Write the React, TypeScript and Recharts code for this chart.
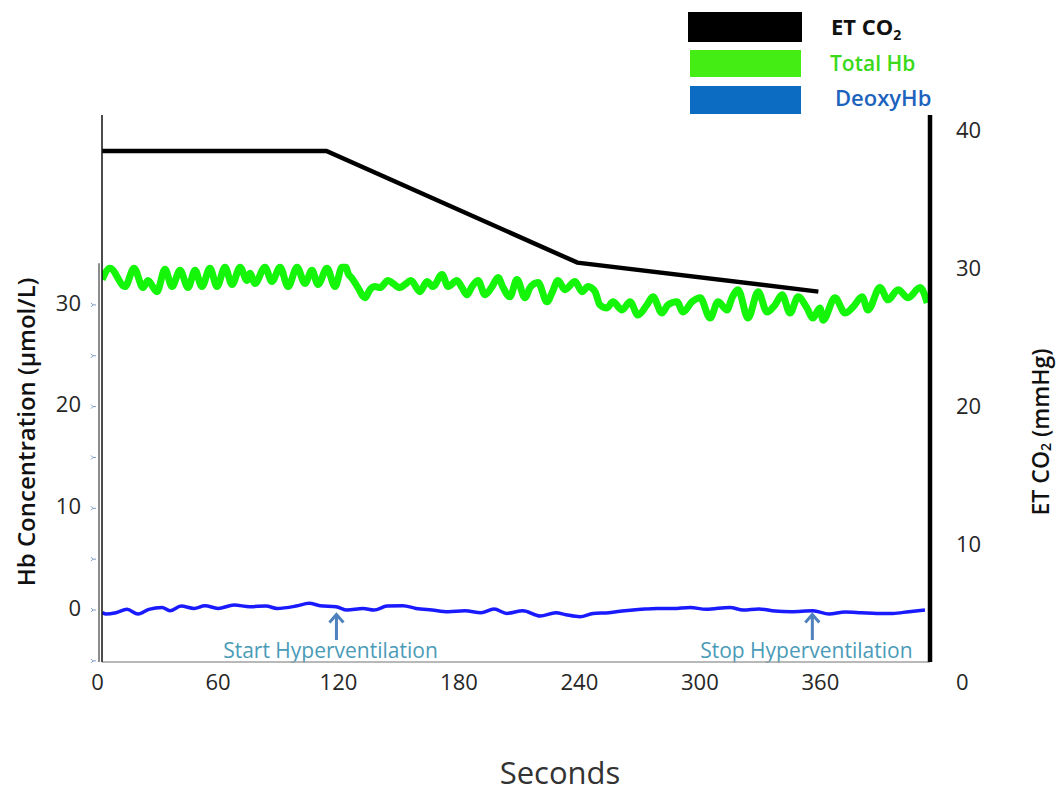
import { LineChart, Line, XAxis, YAxis, ReferenceLine } from 'recharts';

const FONT = '"Open Sans", "Liberation Sans", sans-serif';

// axes
const secondTicks = [0, 60, 120, 180, 240, 300, 360];
const secondDomain = [2.24, 414.6];
const hbTicks = [-5, 0, 5, 10, 15, 20, 25, 30];
const hbDomain = [-5.11, 48.67];
const co2Ticks = [0, 10, 20, 30, 40];
const co2Domain = [1.46, 41.1];

// ET CO2 (mmHg), right axis
const co2Time = [2.3, 114, 239, 359];
const co2Values = [38.5, 38.5, 30.4, 28.3];

// Total Hb (umol/L), left axis
const totalHbTime = [
  2.3, 6.2, 13.7, 18.2, 22.7, 25.1, 29.6, 33.6, 37.1, 41.1,
  45.1, 48.6, 52.0, 56.0, 59.5, 63.5, 67.0, 71.0, 74.5, 75.9,
  78.4, 83.4, 86.9, 90.9, 94.9, 99.4, 103.3, 106.8, 109.8, 114.3,
  118.3, 121.8, 123.8, 124.8, 126.8, 129.7, 133.2, 135.7, 138.2, 140.7,
  144.7, 147.2, 150.6, 153.1, 156.1, 160.6, 164.1, 167.1, 171.6, 174.6,
  179.0, 181.5, 184.0, 186.5, 189.5, 193.0, 196.5, 199.5, 202.0, 205.4,
  208.9, 212.9, 215.4, 219.4, 223.9, 226.4, 229.3, 232.8, 237.8, 241.3,
  244.3, 247.8, 250.2, 253.7, 256.7, 261.2, 265.2, 269.2, 273.6, 276.6,
  281.1, 284.1, 288.6, 291.6, 296.1, 300.1, 305.1, 309.0, 313.5, 316.0,
  319.0, 324.0, 329.0, 333.4, 337.4, 340.9, 344.9, 348.9, 353.3, 356.3,
  359.8, 361.3, 367.3, 372.3, 376.3, 380.8, 383.7, 389.7, 393.7, 398.7,
  403.7, 409.7, 413.2,
];
const totalHbValues = [
  32.5, 33.6, 31.8, 33.6, 31.7, 32.4, 31.3, 33.5, 31.8, 33.4,
  31.7, 33.4, 31.8, 33.6, 31.8, 33.7, 32.0, 33.7, 32.4, 33.1,
  32.1, 33.7, 32.3, 33.7, 31.8, 33.7, 32.1, 33.4, 32.0, 33.6,
  31.8, 33.7, 33.7, 33.1, 32.6, 31.7, 30.7, 31.5, 31.8, 31.7,
  32.4, 32.1, 31.7, 32.0, 32.4, 31.3, 32.3, 31.8, 33.0, 31.8,
  32.4, 31.7, 31.0, 31.8, 32.4, 31.0, 31.8, 32.7, 31.7, 30.8,
  32.5, 30.7, 31.7, 32.2, 30.3, 31.2, 32.4, 31.5, 32.3, 31.3,
  31.8, 31.3, 30.0, 29.7, 30.3, 29.5, 30.3, 29.0, 30.0, 30.8,
  29.2, 30.0, 30.3, 29.3, 30.3, 30.7, 28.7, 30.3, 29.5, 30.7,
  31.5, 28.7, 31.3, 29.3, 30.0, 31.0, 29.2, 30.8, 29.7, 28.7,
  29.7, 28.5, 30.7, 29.2, 29.8, 30.8, 29.5, 31.7, 30.5, 31.5,
  30.7, 31.7, 30.2,
];

// DeoxyHb (umol/L), left axis
const deoxyHbTime = [
  2.3, 4.2, 9.2, 14.7, 20.2, 25.6, 32.1, 36.1, 41.6, 48.1,
  53.5, 60.0, 68.0, 75.9, 83.9, 89.4, 98.9, 105.4, 110.8, 118.8,
  124.3, 132.2, 137.7, 144.2, 152.1, 158.6, 166.6, 174.6, 183.0, 191.0,
  197.5, 203.9, 211.9, 220.4, 228.3, 233.3, 240.3, 246.8, 254.7, 262.7,
  270.7, 278.7, 286.6, 295.1, 303.1, 315.0, 321.5, 329.4, 337.4, 345.4,
  356.3, 364.3, 372.3, 380.3, 388.2, 396.1, 404.1, 412.1,
];
const deoxyHbValues = [
  -0.26, -0.39, -0.26, 0.07, -0.39, 0.07, 0.26, -0.07, 0.39, 0.16,
  0.43, 0.16, 0.49, 0.33, 0.39, 0.16, 0.39, 0.66, 0.43, 0.33,
  0.0, 0.16, 0.0, 0.39, 0.43, 0.16, 0.0, -0.16, -0.07, -0.26,
  0.1, -0.33, -0.07, -0.59, -0.26, -0.46, -0.66, -0.33, -0.26, -0.07,
  0.07, 0.16, 0.16, 0.26, 0.07, 0.26, 0.0, 0.1, -0.1, -0.16,
  -0.07, -0.39, -0.2, -0.26, -0.33, -0.33, -0.16, 0.0,
];

// event markers
const eventTimes = [119, 356];
const eventLabels = ['Start Hyperventilation', 'Stop Hyperventilation'];

const toPoints = (ts: number[], vs: number[]) => ts.map((t, i) => ({ t, v: vs[i] }));

const co2Data = toPoints(co2Time, co2Values);
const totalHbData = toPoints(totalHbTime, totalHbValues);
const deoxyHbData = toPoints(deoxyHbTime, deoxyHbValues);

function HbTick({ x, y, payload }: any) {
  const v = payload.value;
  return (
    <g>
      <path d={`M${x - 11},${y - 2}L${x - 9},${y}L${x - 11},${y + 2}M${x - 9},${y}L${x - 6},${y}`} stroke="#7d9cc8" fill="none" strokeWidth={1} />
      {v % 10 === 0 && (
        <text x={x - 21} y={y - 2} dy="0.35em" textAnchor="end" fontSize={22} fill="#262626" fontFamily={FONT}>
          {v}
        </text>
      )}
    </g>
  );
}

const arrowShape = (label: string) => (props: any) => {
  const { x1, y1, y2 } = props;
  const tip = Math.min(y1, y2);
  const tail = Math.max(y1, y2);
  return (
    <g>
      <path
        d={`M${x1},${tail}L${x1},${tip}M${x1 - 7},${tip + 8}L${x1},${tip}L${x1 + 7},${tip + 8}`}
        stroke="#4f81bd"
        strokeWidth={3}
        fill="none"
      />
      <text x={x1 - 6} y={tail + 10} textAnchor="middle" dominantBaseline="central" fontSize={21} fill="#4a9bb8" fontFamily={FONT}>
        {label}
      </text>
    </g>
  );
};

export default function App() {
  return (
    <div style={{ position: 'absolute', left: 0, top: 0, width: 1056, height: 792, background: '#fff', fontFamily: FONT }}>
      <LineChart width={1056} height={792} margin={{ top: 115, right: 0, bottom: 0, left: 0 }}>
        <XAxis
          dataKey="t"
          type="number"
          domain={secondDomain}
          allowDataOverflow
          ticks={secondTicks}
          interval={0}
          tickLine={false}
          tickSize={0}
          tickMargin={12}
          height={130}
          axisLine={{ stroke: '#a0a0a0', strokeWidth: 1.5 }}
          tick={{ fontSize: 22, fill: '#262626', fontFamily: FONT }}
          label={{
            content: () => (
              <text x={560} y={772} textAnchor="middle" dominantBaseline="central" fontSize={31} fill="#333" fontFamily={FONT}>
                Seconds
              </text>
            ),
          }}
        />
        <YAxis
          yAxisId="hb"
          orientation="left"
          type="number"
          domain={hbDomain}
          allowDataOverflow
          ticks={hbTicks}
          interval={0}
          width={102}
          tickLine={false}
          tickSize={0}
          tickMargin={0}
          axisLine={{ stroke: '#111', strokeWidth: 1.5 }}
          tick={<HbTick />}
          label={{
            content: () => (
              <text
                transform="translate(25, 432) rotate(-90)"
                textAnchor="middle"
                dominantBaseline="central"
                fontSize={24}
                fontWeight={600}
                fill="#111"
                fontFamily={FONT}
              >
                Hb Concentration (μmol/L)
              </text>
            ),
          }}
        />
        <YAxis
          yAxisId="co2"
          orientation="right"
          type="number"
          domain={co2Domain}
          allowDataOverflow
          ticks={co2Ticks}
          interval={0}
          width={126}
          tickLine={false}
          tickSize={0}
          tickMargin={26}
          axisLine={{ stroke: '#000', strokeWidth: 4.5 }}
          tick={{ fontSize: 22, fill: '#262626', fontFamily: FONT }}
          label={{
            content: () => (
              <text
                transform="translate(1040, 432) rotate(-90)"
                textAnchor="middle"
                dominantBaseline="central"
                fontSize={23}
                fontWeight={600}
                fill="#111"
                fontFamily={FONT}
              >
                ET CO<tspan fontSize={14} dy={5}>2</tspan>
                <tspan dy={-5}> (mmHg)</tspan>
              </text>
            ),
          }}
        />
        <ReferenceLine
          yAxisId="hb"
          segment={[{ x: 0.75, y: hbDomain[0] }, { x: 0.75, y: 34.1 }]}
          stroke="#666"
          strokeWidth={1.5}
          ifOverflow="visible"
        />
        {eventTimes.map((t, i) => (
          <ReferenceLine
            key={eventLabels[i]}
            yAxisId="hb"
            segment={[{ x: t, y: -0.45 }, { x: t, y: -2.95 }]}
            ifOverflow="visible"
            shape={arrowShape(eventLabels[i])}
          />
        ))}
        <Line
          data={totalHbData}
          yAxisId="hb"
          dataKey="v"
          type="monotone"
          stroke="#14f50a"
          strokeWidth={7}
          strokeLinejoin="round"
          dot={false}
          isAnimationActive={false}
        />
        <Line
          data={deoxyHbData}
          yAxisId="hb"
          dataKey="v"
          type="monotone"
          stroke="#1a1aff"
          strokeWidth={3.5}
          dot={false}
          isAnimationActive={false}
        />
        <Line
          data={co2Data}
          yAxisId="co2"
          dataKey="v"
          type="linear"
          stroke="#000"
          strokeWidth={4.5}
          dot={false}
          isAnimationActive={false}
        />
      </LineChart>

      <div style={{ position: 'absolute', left: 688, top: 12, width: 114, height: 30, background: '#000' }} />
      <div style={{ position: 'absolute', left: 690, top: 50, width: 111, height: 27, background: '#44ee14' }} />
      <div style={{ position: 'absolute', left: 690, top: 86, width: 111, height: 28, background: '#0b6cc2' }} />
      <div style={{ position: 'absolute', left: 831, top: 11, fontSize: 22, fontWeight: 700, color: '#111', lineHeight: '30px' }}>
        ET CO<sub style={{ fontSize: 14, verticalAlign: '-5px' }}>2</sub>
      </div>
      <div style={{ position: 'absolute', left: 830, top: 49, fontSize: 21, fontWeight: 600, color: '#3ad919', lineHeight: '28px' }}>
        Total Hb
      </div>
      <div style={{ position: 'absolute', left: 835, top: 83, fontSize: 22, fontWeight: 600, color: '#1d63bd', lineHeight: '28px' }}>
        DeoxyHb
      </div>
    </div>
  );
}
